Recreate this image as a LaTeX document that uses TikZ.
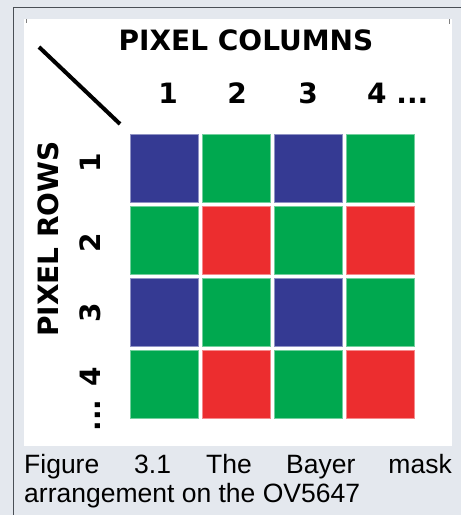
\documentclass[tikz,border=0pt]{standalone}
\usepackage{fontspec}
\setmainfont{Liberation Sans}
\newfontfamily\labelfont{DejaVu Sans}
\definecolor{bgc}{HTML}{E4E8EE}
\definecolor{framec}{HTML}{4A4F55}
\definecolor{bayerblue}{HTML}{353A93}
\definecolor{bayergreen}{HTML}{00A84F}
\definecolor{bayerred}{HTML}{EC2D2F}
\begin{document}
\begin{tikzpicture}[x=1pt,y=-1pt,
  cell/.style={minimum width=68pt,minimum height=68pt,inner sep=0pt,line width=0.8pt},
  bcell/.style={cell,fill=bayerblue,draw=bayerblue!55!white},
  gcell/.style={cell,fill=bayergreen,draw=bayergreen!55!white},
  rcell/.style={cell,fill=bayerred,draw=bayerred!55!white},
  lbl/.style={font=\labelfont\bfseries\fontsize{28}{30}\selectfont,inner sep=0pt},
  captext/.style={font=\fontsize{26.5}{29}\selectfont,inner sep=0pt,anchor=base west}]
\useasboundingbox (0,0) rectangle (461,515);
\fill[bgc] (0,0) rectangle (461,515);
\draw[framec,line width=1.5pt] (13.5,515) -- (13.5,7.5) -- (461,7.5);
\fill[white] (24,19) rectangle (452,446);
\draw[gray,line width=1pt] (26.5,19) -- (26.5,23);
\draw[gray,line width=1pt] (449.5,19) -- (449.5,24);
% grid
\foreach \r in {1,...,4}{
  \foreach \c in {1,...,4}{
    \pgfmathtruncatemacro{\odd}{mod(\r,2)}
    \pgfmathtruncatemacro{\oddc}{mod(\c,2)}
    \ifnum\odd=1
      \ifnum\oddc=1 \def\st{bcell}\else\def\st{gcell}\fi
    \else
      \ifnum\oddc=1 \def\st{gcell}\else\def\st{rcell}\fi
    \fi
    \node[\st] (c\r\c) at ({164.3+72*(\c-1)},{168.5+72*(\r-1)}) {};
  }
}
% labels
\node[lbl] (colhead) at (246,40) {PIXEL COLUMNS};
\node[lbl,anchor=base] (col1) at (168,103) {1};
\node[lbl,anchor=base] (col2) at (237,103) {2};
\node[lbl,anchor=base] (col3) at (308,103) {3};
\node[lbl,anchor=base west] (col4) at (367,103) {4 ...};
\node[lbl,rotate=90] (rowhead) at (48,239) {PIXEL ROWS};
\node[lbl,rotate=90,anchor=base] (row1) at (100,163) {1};
\node[lbl,rotate=90,anchor=base] (row2) at (100,243) {2};
\node[lbl,rotate=90,anchor=base] (row3) at (100,313) {3};
\node[lbl,rotate=90,anchor=base east] (row4) at (100,367) {... 4};
\coordinate (d1) at (39,47);
\coordinate (d2) at (120,124);
\draw[line width=4pt] (d1) -- (d2);
% caption
\node[captext] (cap1) at (24,473) {Figure};
\node[captext] (cap2) at (134,473) {3.1};
\node[captext] (cap3) at (206,473) {The};
\node[captext] (cap4) at (286,473) {Bayer};
\node[captext,anchor=base east] (cap5) at (452,473) {mask};
\node[captext] (cap6) at (24,502) {arrangement on the OV5647};
\end{tikzpicture}
\end{document}
